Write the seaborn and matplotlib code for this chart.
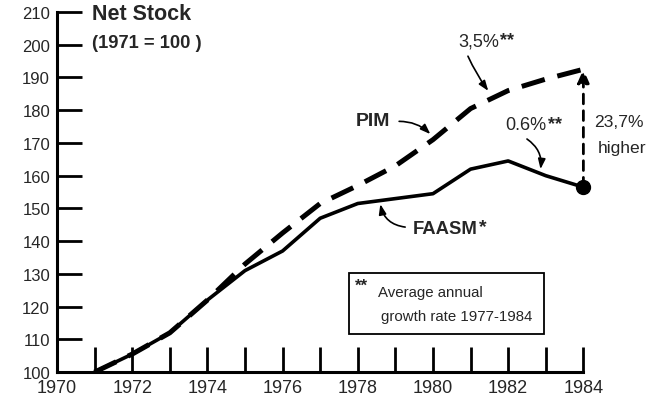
import matplotlib
matplotlib.use("Agg")
import matplotlib.pyplot as plt
from matplotlib.patches import Rectangle
import numpy as np
import pandas as pd
import seaborn as sns

years = [1971, 1972, 1973, 1974, 1975, 1976, 1977, 1978, 1979, 1980, 1981, 1982, 1983, 1984]
pim = [100, 105.5, 112, 122, 133, 142.5, 151.5, 157, 163, 171, 180.5, 186, 189.5, 192.5]
faasm = [100, 105.5, 112, 122, 131, 137, 147, 151.5, 153, 154.5, 162, 164.5, 160, 156.5]
x_ticks = list(range(1970, 1985))
x_labels = [str(y) if y % 2 == 0 else "" for y in x_ticks]
y_ticks = list(range(100, 211, 10))

sns.set_style("ticks")
plt.rcParams["font.family"] = ["Liberation Sans", "DejaVu Sans"]

df = pd.DataFrame({"year": years, "PIM": pim, "FAASM": faasm})

fig = plt.figure(figsize=(6.58, 4.06), dpi=100)
ax = fig.add_axes([0.0866, 0.081, 0.80, 0.887])

sns.lineplot(data=df, x="year", y="FAASM", ax=ax, color="black", lw=2.6)
sns.lineplot(data=df, x="year", y="PIM", ax=ax, color="black", lw=3.6,
             dashes=False, linestyle=(0, (4.8, 2.6)))
ax.plot(years[-1], faasm[-1], "o", color="black", ms=10, zorder=5, clip_on=False)

ax.set_xlim(1970, 1984)
ax.set_ylim(100, 210)
ax.set_xticks(x_ticks)
ax.set_xticklabels(x_labels, fontsize=13)
ax.set_yticks(y_ticks)
ax.set_yticklabels([str(v) for v in y_ticks], fontsize=12)
ax.tick_params(axis="both", direction="in", length=18, width=2, color="black")
ax.tick_params(axis="x", pad=5)
ax.tick_params(axis="y", pad=5)
ax.set_xlabel("")
ax.set_ylabel("")
sns.despine(ax=ax)
for s in ("left", "bottom"):
    ax.spines[s].set_linewidth(2.2)
    ax.spines[s].set_color("black")

arrow = dict(arrowstyle="-|>,head_width=0.22,head_length=0.6", color="black", lw=1.2,
             shrinkA=0, shrinkB=0)


def label(x, y, s, size, bold=False, star=None, star_size=13):
    t = ax.text(x, y, s, fontsize=size, fontweight="bold" if bold else "normal",
                ha="left", va="center", clip_on=False)
    if star:
        # bold asterisks tucked against the top right of the label
        ax.annotate(star, xy=(1, 1.1), xycoords=t, fontsize=star_size, fontweight="bold",
                    ha="left", va="top", xytext=(1, 0), textcoords="offset points")
    return t


def pointer(start, tip, rad):
    ax.annotate("", xy=tip, xytext=start,
                arrowprops=dict(arrow, connectionstyle=f"arc3,rad={rad}"))


# titles
label(1970.93, 209.4, "Net Stock", 15.5, bold=True)
label(1970.93, 200.8, "(1971 = 100 )", 13.2, bold=True)

# series labels
label(1977.95, 177, "PIM", 14, bold=True)
pointer((1979.1, 176.6), (1979.93, 172.7), -0.2)

label(1979.45, 144, "FAASM", 13.3, bold=True, star="*", star_size=14)
pointer((1979.26, 144.3), (1978.6, 151.3), -0.35)

# growth rate labels
label(1980.67, 201.1, "3,5%", 13, star="**")
pointer((1980.93, 196.5), (1981.47, 185.9), 0.05)

label(1981.92, 175.5, "0.6%", 13, star="**")
pointer((1982.5, 171.2), (1982.86, 162), -0.3)

# vertical gap arrow
ax.annotate("", xy=(1984, pim[-1]), xytext=(1984, faasm[-1]),
            arrowprops=dict(arrowstyle="-|>,head_width=0.35,head_length=0.8", color="black", lw=2,
                            linestyle=(0, (3.5, 2.5)), shrinkA=0, shrinkB=0), annotation_clip=False)
label(1984.29, 176.7, "23,7%", 12.6)
label(1984.37, 168.7, "higher", 12.6)

# footnote box
ax.add_patch(Rectangle((1977.77, 111.6), 5.17, 18.6, fill=False, edgecolor="black", lw=1.3))
label(1977.93, 126.4, "**", 12, bold=True)
label(1978.55, 124.5, "Average annual", 10.8)
label(1978.62, 117.2, "growth rate 1977-1984", 10.8)

fig.savefig("out.png", dpi=100)
